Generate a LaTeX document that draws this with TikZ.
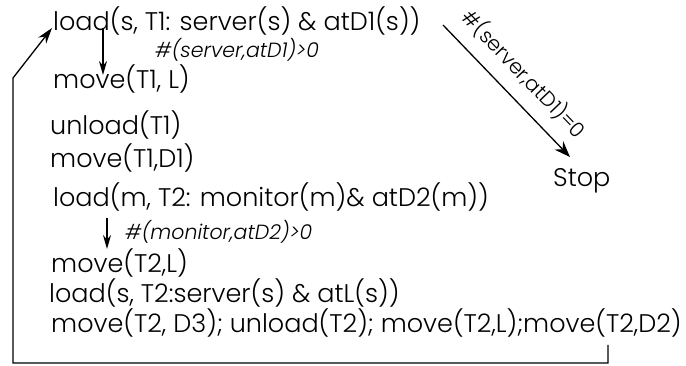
\documentclass[tikz,border=0pt]{standalone}
\usepackage{fontspec}
\setmainfont{Poppins}[UprightFont={* Light},ItalicFont={* Light Italic}]
\usetikzlibrary{arrows.meta}
\begin{document}
\begin{tikzpicture}[x=1pt,y=-1pt,
  stmt/.style={anchor=west,inner sep=0pt,font=\fontsize{25.5}{30}\selectfont},
  cond/.style={anchor=west,inner sep=0pt,font=\fontsize{20.5}{24}\selectfont\itshape},
  flow/.style={line width=1.3pt,-{Stealth[length=14pt,width=8pt]}}]
\useasboundingbox (0,0) rectangle (686,366);
% plan steps
\node[stmt] (l1)  at (53,21)  {load(s, T1: server(s) \& atD1(s))};
\node[cond] (c1)  at (155,50) {\#(server,atD1)>0};
\node[stmt] (l3)  at (53,79)  {move(T1, L)};
\node[stmt] (l4)  at (50,125) {unload(T1)};
\node[stmt] (l5)  at (50,158) {move(T1,D1)};
\node[stmt] (l6)  at (53,197) {load(m, T2: monitor(m)\& atD2(m))};
\node[cond] (c2)  at (125,232) {\#(monitor,atD2)>0};
\node[stmt] (l8)  at (51,263) {move(T2,L)};
\node[stmt] (l9)  at (49,293) {load(s, T2:server(s) \& atL(s))};
\node[stmt] (l10) at (51,323) {move(T2, D3); unload(T2); move(T2,L);move(T2,D2)};
\node[stmt] (stop) at (553,181) {Stop};
% connector points
\coordinate (a1s) at (103,28);
\coordinate (a1e) at (103,75);
\coordinate (a2s) at (107,218);
\coordinate (a2e) at (107,249);
\coordinate (ds) at (443,25);
\coordinate (de) at (570,157);
\coordinate (r0) at (608,345);
\coordinate (r1) at (608,363);
\coordinate (r2) at (13,363);
\coordinate (r3) at (13,78);
\coordinate (r4) at (52,28);
% arrows
\draw[flow] (a1s) -- (a1e);
\draw[flow] (a2s) -- (a2e);
\draw[flow,-{Stealth[length=16pt,width=12pt]}] (ds) -- node[sloped,above=9pt,pos=0.5,font=\fontsize{20.5}{24}\selectfont] {\#(server,atD1)=0} (de);
\draw[flow,-{Stealth[length=16pt,width=10pt]}] (r0) -- (r1) -- (r2) -- (r3) -- (r4);
\end{tikzpicture}
\end{document}
